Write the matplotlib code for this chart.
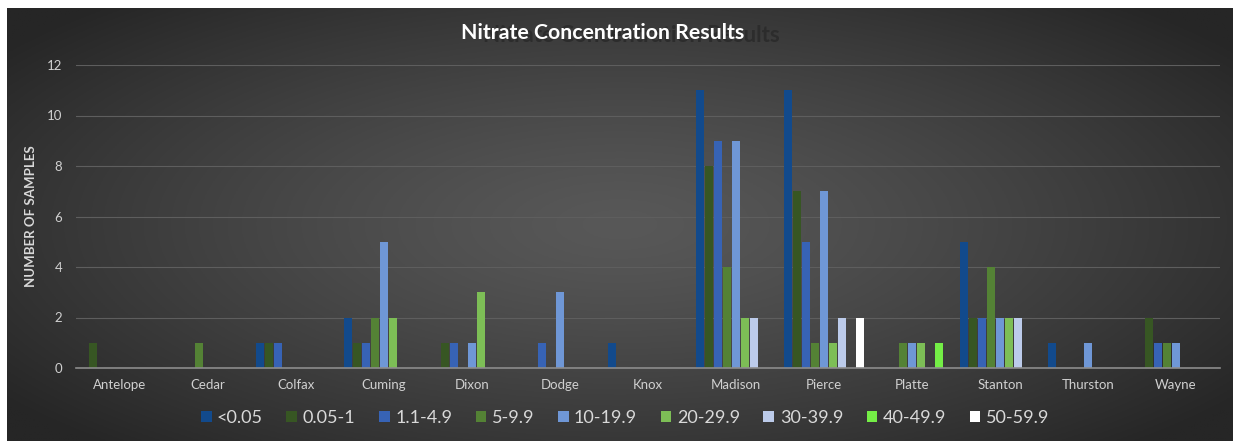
import numpy as np
import matplotlib.pyplot as plt

counties = ["Antelope", "Cedar", "Colfax", "Cuming", "Dixon", "Dodge", "Knox",
            "Madison", "Pierce", "Platte", "Stanton", "Thurston", "Wayne"]
ranges = ["<0.05", "0.05-1", "1.1-4.9", "5-9.9", "10-19.9",
          "20-29.9", "30-39.9", "40-49.9", "50-59.9"]

# counts per county for each concentration range
lt_005 = [0, 0, 1, 2, 0, 0, 1, 11, 11, 0, 5, 1, 0]
r_005_1 = [1, 0, 1, 1, 1, 0, 0, 8, 7, 0, 2, 0, 2]
r_11_49 = [0, 0, 1, 1, 1, 1, 0, 9, 5, 0, 2, 0, 1]
r_5_99 = [0, 1, 0, 2, 0, 0, 0, 4, 1, 1, 4, 0, 1]
r_10_199 = [0, 0, 0, 5, 1, 3, 0, 9, 7, 1, 2, 1, 1]
r_20_299 = [0, 0, 0, 2, 3, 0, 0, 2, 1, 1, 2, 0, 0]
r_30_399 = [0, 0, 0, 0, 0, 0, 0, 2, 2, 0, 2, 0, 0]
r_40_499 = [0, 0, 0, 0, 0, 0, 0, 0, 0, 1, 0, 0, 0]
r_50_599 = [0, 0, 0, 0, 0, 0, 0, 0, 2, 0, 0, 0, 0]
series = [lt_005, r_005_1, r_11_49, r_5_99, r_10_199,
          r_20_299, r_30_399, r_40_499, r_50_599]

colors = ["#124a8c", "#375623", "#3763b5", "#548235", "#6f97d6",
          "#7dbe56", "#bccbea", "#74ee46", "#ffffff"]

plt.rcParams["font.family"] = ["Lato", "DejaVu Sans"]
W, H = 1233, 441
fig = plt.figure(figsize=(W / 100, H / 100), dpi=100, facecolor="white")

# radial gradient background of the chart area
bg = fig.add_axes([7 / W, 0, 1 - 7 / W, 1 - 8 / H], zorder=-1)
gx, gy = np.meshgrid(np.linspace(-1, 1, 600), np.linspace(-1, 1, 220))
r = np.sqrt(gx ** 2 + (gy * 0.9) ** 2)
r = np.clip(r / 1.25, 0, 1)
c_in, c_out = 0x58 / 255, 0x26 / 255
shade = c_in + (c_out - c_in) * r ** 1.3
bg.imshow(np.dstack([shade] * 3), aspect="auto", extent=[0, 1, 0, 1])
bg.set_axis_off()

ax = fig.add_axes([76 / W, 1 - 368 / H, (1220 - 76) / W, (368 - 65) / H])
ax.patch.set_alpha(0)

x = np.arange(len(counties))
slot = 1 / 9.8
for k, (vals, col, lab) in enumerate(zip(series, colors, ranges)):
    ax.bar(x + (k - 4) * slot, vals, width=slot * 0.82, color=col,
           label=lab, zorder=3)

ax.set_xlim(-0.5, len(counties) - 0.5)
ax.set_ylim(0, 12)
ax.set_yticks(range(0, 13, 2))
ax.set_xticks(x)
ax.set_xticklabels(counties)
ax.tick_params(axis="both", length=0, colors="#d0d0d0", labelsize=9.5)
ax.tick_params(axis="x", pad=8)
ax.tick_params(axis="y", pad=10)
ax.grid(axis="y", color="#5e5e5e", linewidth=0.8, zorder=0)
for s in ["top", "right", "left"]:
    ax.spines[s].set_visible(False)
ax.spines["bottom"].set_color("#8c8c8c")
ax.spines["bottom"].set_linewidth(1.2)
ax.spines["bottom"].set_zorder(4)

ax.set_ylabel("NUMBER OF SAMPLES", color="#d9d9d9", fontsize=9.5,
              fontweight="bold", labelpad=7)

# title with its faint ghost copy behind it
fig.text(780 / W, 1 - 36 / H, "Nitrate Concentration Results", ha="right",
         va="center", fontsize=16, fontweight="bold", color="#2c2c2c")
fig.text(603 / W, 1 - 33 / H, "Nitrate Concentration Results", ha="center",
         va="center", fontsize=15.3, fontweight="bold", color="white")

leg = ax.legend(loc="center", bbox_to_anchor=(625 / W, 1 - 418 / H),
                bbox_transform=fig.transFigure, ncol=9, frameon=False,
                fontsize=13, handlelength=0.6, handleheight=0.6,
                handletextpad=0.3, columnspacing=1.3, borderaxespad=0)
for t in leg.get_texts():
    t.set_color("#d9d9d9")

fig.savefig("out.png", dpi=100, facecolor="white")
